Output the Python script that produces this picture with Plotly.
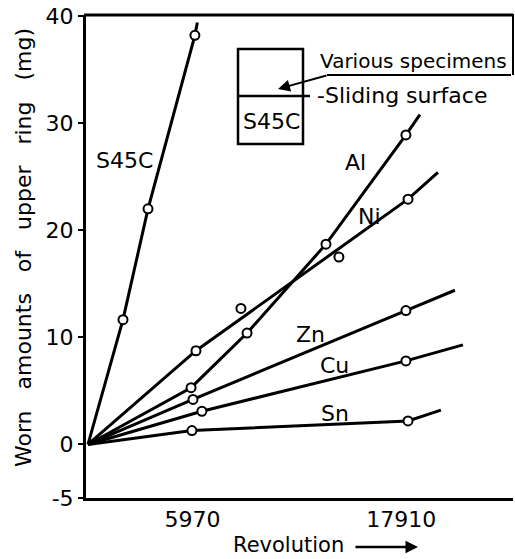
import plotly.graph_objects as go

# ---------------- data ----------------
# fitted / drawn lines (vertices)
s45c_line_x = [0, 2000, 3430, 6110, 6250]
s45c_line_y = [0, 11.65, 22.0, 38.2, 39.4]
al_line_x = [0, 5890, 9090, 13600, 18170, 18970]
al_line_y = [0, 5.3, 10.4, 18.7, 28.9, 30.8]
ni_line_x = [0, 6170, 18290, 20000]
ni_line_y = [0, 8.75, 22.9, 25.4]
zn_line_x = [0, 6000, 18170, 20970]
zn_line_y = [0, 4.2, 12.5, 14.4]
cu_line_x = [0, 6510, 18170, 21430]
cu_line_y = [0, 3.1, 7.8, 9.3]
sn_line_x = [0, 5940, 18290, 20170]
sn_line_y = [0, 1.3, 2.2, 3.2]

# measured points (open circles)
s45c_pts_x = [2000, 3430, 6110]
s45c_pts_y = [11.65, 22.0, 38.2]
al_pts_x = [5890, 9090, 13600, 18170]
al_pts_y = [5.3, 10.4, 18.7, 28.9]
ni_pts_x = [6170, 8740, 14340, 18290]
ni_pts_y = [8.75, 12.7, 17.5, 22.9]
zn_pts_x = [6000, 18170]
zn_pts_y = [4.2, 12.5]
cu_pts_x = [6510, 18170]
cu_pts_y = [3.1, 7.8]
sn_pts_x = [5940, 18290]
sn_pts_y = [1.3, 2.2]

series_names = ["S45C", "Al", "Ni", "Zn", "Cu", "Sn"]
label_x = [2110, 15260, 16060, 12690, 14110, 14110]
label_y = [26.5, 26.3, 21.3, 10.3, 7.4, 2.9]

x_tickvals = [5970, 17910]
x_ticktext = ["5970", "17910"]
y_tickvals = [-5, 0, 10, 20, 30, 40]
y_ticktext = ["-5", "0", "10", "20", "30", "40"]

# ---------------- figure ----------------
W, H = 515, 559
L, R, T, B = 86, 2, 15, 61
PW, PH = W - L - R, H - T - B
FONT = "DejaVu Sans"


def px(x):
    return (x - L) / PW


def py(y):
    return (H - B - y) / PH


fig = go.Figure()

lines = [
    (s45c_line_x, s45c_line_y), (al_line_x, al_line_y), (ni_line_x, ni_line_y),
    (zn_line_x, zn_line_y), (cu_line_x, cu_line_y), (sn_line_x, sn_line_y),
]
pts = [
    (s45c_pts_x, s45c_pts_y), (al_pts_x, al_pts_y), (ni_pts_x, ni_pts_y),
    (zn_pts_x, zn_pts_y), (cu_pts_x, cu_pts_y), (sn_pts_x, sn_pts_y),
]
for name, (lx, ly) in zip(series_names, lines):
    fig.add_trace(go.Scatter(x=lx, y=ly, mode="lines", name=name,
                             line=dict(color="black", width=3), showlegend=False,
                             hoverinfo="skip"))
for name, (mx, my) in zip(series_names, pts):
    fig.add_trace(go.Scatter(x=mx, y=my, mode="markers", name=name,
                             marker=dict(symbol="circle", size=9, color="white",
                                         line=dict(color="black", width=2)),
                             showlegend=False))

annotations = []
for name, lx, ly in zip(series_names, label_x, label_y):
    annotations.append(dict(x=lx, y=ly, xref="x", yref="y", text=name, showarrow=False,
                            font=dict(family=FONT, size=22, color="black")))

nb = "\u00a0"
ytitle = (3 * nb).join(["Worn", "amounts", "of", "upper", "ring", "(mg)"])
annotations += [
    dict(x=px(23), y=py(248), xref="paper", yref="paper", text=ytitle, textangle=-90,
         showarrow=False, xanchor="center", yanchor="middle",
         font=dict(family=FONT, size=22, color="black")),
    dict(x=px(288), y=py(545), xref="paper", yref="paper", text="Revolution",
         showarrow=False, xanchor="center", yanchor="middle",
         font=dict(family=FONT, size=21, color="black")),
    dict(x=px(418), y=py(547), xref="paper", yref="paper", text="", showarrow=True,
         ax=-64, ay=0, arrowhead=2, arrowsize=1, arrowwidth=2.5, arrowcolor="black"),
    # inset texts
    dict(x=px(271), y=py(121), xref="paper", yref="paper", text="S45C", showarrow=False,
         xanchor="center", yanchor="middle", font=dict(family=FONT, size=22, color="black")),
    dict(x=px(315), y=py(96), xref="paper", yref="paper", text="-Sliding surface",
         showarrow=False, xanchor="left", yanchor="middle",
         font=dict(family=FONT, size=22, color="black")),
    dict(x=px(318), y=py(61), xref="paper", yref="paper", text="Various specimens",
         showarrow=False, xanchor="left", yanchor="middle",
         font=dict(family=FONT, size=20, color="black")),
    dict(x=px(278), y=py(89), xref="paper", yref="paper", text="", showarrow=True,
         ax=50, ay=-14, arrowhead=2, arrowsize=1.2, arrowwidth=2, arrowcolor="black"),
]

shapes = [
    # top frame and partial right frame
    dict(type="line", xref="paper", yref="paper", x0=px(84), x1=px(513), y0=py(15), y1=py(15),
         line=dict(color="black", width=3)),
    dict(type="line", xref="paper", yref="paper", x0=px(513), x1=px(513), y0=py(14), y1=py(75),
         line=dict(color="black", width=2)),
    # inset box
    dict(type="rect", xref="paper", yref="paper", x0=px(238), x1=px(303), y0=py(49), y1=py(144),
         line=dict(color="black", width=2.5)),
    dict(type="line", xref="paper", yref="paper", x0=px(238), x1=px(310), y0=py(96), y1=py(96),
         line=dict(color="black", width=2.5)),
    # underline of "Various specimens"
    dict(type="line", xref="paper", yref="paper", x0=px(327), x1=px(511), y0=py(75), y1=py(75),
         line=dict(color="black", width=2)),
]

fig.update_layout(
    width=W, height=H,
    margin=dict(l=L, r=R, t=T, b=B, pad=0),
    paper_bgcolor="white", plot_bgcolor="white",
    font=dict(family=FONT, size=22, color="black"),
    showlegend=False,
    annotations=annotations,
    shapes=shapes,
    xaxis=dict(range=[-114, 24290], showgrid=False, zeroline=False,
               showline=True, linecolor="black", linewidth=3,
               tickvals=x_tickvals, ticktext=x_ticktext, ticks="", ticklen=0,
               tickfont=dict(family=FONT, size=22, color="black")),
    yaxis=dict(range=[-5, 40.1], showgrid=False, zeroline=False,
               showline=True, linecolor="black", linewidth=3,
               tickvals=y_tickvals, ticktext=y_ticktext, ticks="outside", ticklen=5,
               tickwidth=2, tickcolor="black",
               tickfont=dict(family=FONT, size=22, color="black")),
)

fig.write_html("out.html")
